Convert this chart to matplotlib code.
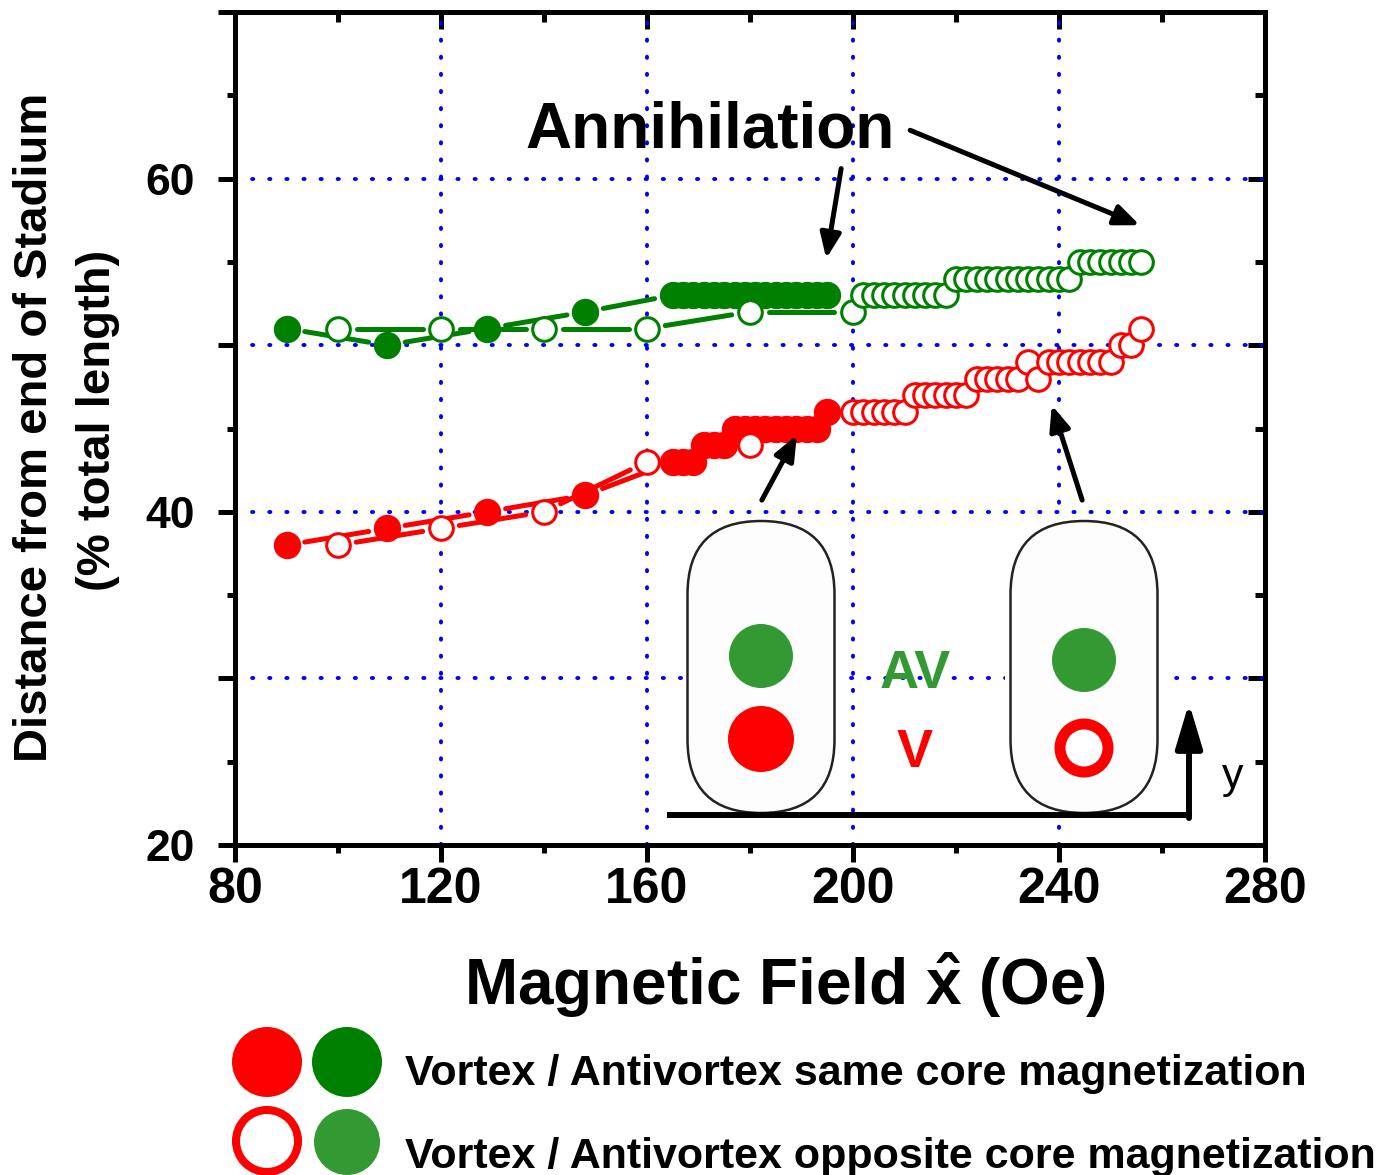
import numpy as np
import matplotlib.pyplot as plt
from matplotlib.patches import Circle, FancyBboxPatch, Rectangle
from matplotlib.collections import LineCollection
from matplotlib.ticker import MultipleLocator

plt.rcParams['font.family'] = ['Liberation Sans', 'DejaVu Sans']
plt.rcParams['font.weight'] = 'bold'
plt.rcParams['lines.dash_capstyle'] = 'round'
plt.rcParams['mathtext.fontset'] = 'custom'
plt.rcParams['mathtext.rm'] = 'Liberation Sans:bold'
plt.rcParams['mathtext.bf'] = 'Liberation Sans:bold'

# vortex / antivortex same core magnetization (filled symbols)
field_same = [90, 109.5, 129, 148, 165, 167, 169, 171, 173, 175, 177, 179,
              181, 183, 185, 187, 189, 191, 193, 195]
av_same = [51, 50, 51, 52, 53, 53, 53, 53, 53, 53, 53, 53,
           53, 53, 53, 53, 53, 53, 53, 53]
v_same = [38, 39, 40, 41, 43, 43, 43, 44, 44, 44, 45, 45,
          45, 45, 45, 45, 45, 45, 45, 46]

# opposite core magnetization (open symbols)
field_opp = [100, 120, 140, 160, 180, 200, 202, 204, 206, 208, 210, 212,
             214, 216, 218, 220, 222, 224, 226, 228, 230, 232, 234, 236,
             238, 240, 242, 244, 246, 248, 250, 252, 254, 256]
av_opp = [51, 51, 51, 51, 52, 52, 53, 53, 53, 53, 53, 53,
          53, 53, 53, 54, 54, 54, 54, 54, 54, 54, 54, 54,
          54, 54, 54, 55, 55, 55, 55, 55, 55, 55]
v_opp = [38, 39, 40, 43, 44, 46, 46, 46, 46, 46, 46, 47,
         47, 47, 47, 47, 47, 48, 48, 48, 48, 48, 49, 48,
         49, 49, 49, 49, 49, 49, 49, 50, 50, 51]

green = '#008000'
red = '#ff0000'
light_green = '#339933'

fig = plt.figure(figsize=(13.8, 11.75), dpi=100)
ax = fig.add_axes([235/1380, 1 - 845/1175, 1030/1380, 833/1175])
ax.set_xlim(80, 280)
ax.set_ylim(20, 70)


def gapped(x, y, gap=18.5):
    # Origin-style line: segments stop short of the symbols
    pts = ax.transData.transform(np.column_stack([x, y]))
    inv = ax.transData.inverted()
    segs = []
    for p, q in zip(pts[:-1], pts[1:]):
        d = q - p
        L = np.hypot(d[0], d[1])
        if L <= 2*gap:
            continue
        u = d / L
        segs.append(inv.transform(np.array([p + u*gap, q - u*gap])))
    return segs


for x, y, c in [(field_same, av_same, green), (field_opp, av_opp, green),
                (field_same, v_same, red), (field_opp, v_opp, red)]:
    ax.add_collection(LineCollection(gapped(x, y), colors=c, linewidths=3.6,
                                     capstyle='round', zorder=2))

ax.plot(field_same, av_same, 'o', ms=17.5, mew=2.2, mfc=green, mec=green, ls='none', zorder=3)
ax.plot(field_same, v_same, 'o', ms=17.5, mew=2.2, mfc=red, mec=red, ls='none', zorder=3)
ax.plot(field_opp, av_opp, 'o', ms=17, mew=2.2, mfc='white', mec=green, ls='none', zorder=4)
ax.plot(field_opp, v_opp, 'o', ms=17, mew=2.2, mfc='white', mec=red, ls='none', zorder=4)

# axes and ticks
ax.xaxis.set_major_locator(MultipleLocator(40))
ax.xaxis.set_minor_locator(MultipleLocator(20))
ax.set_yticks([20, 30, 40, 50, 60, 70], ['20', '', '40', '', '60', ''])
ax.yaxis.set_minor_locator(MultipleLocator(5))
ax.tick_params(which='major', direction='out', length=12, width=3.6)
ax.tick_params(which='minor', direction='out', length=6, width=3.6)
ax.tick_params(axis='x', labelsize=36, pad=4)
ax.tick_params(axis='y', labelsize=32, pad=17)
for s in ax.spines.values():
    s.set_linewidth(3.6)

top = ax.secondary_xaxis('top')
top.xaxis.set_major_locator(MultipleLocator(40))
top.xaxis.set_minor_locator(MultipleLocator(20))
top.tick_params(which='major', direction='in', length=12, width=3.6, labeltop=False)
top.tick_params(which='minor', direction='in', length=7, width=3.6)
right = ax.secondary_yaxis('right')
right.yaxis.set_major_locator(MultipleLocator(10))
right.yaxis.set_minor_locator(MultipleLocator(5))
right.tick_params(which='major', direction='in', length=12, width=3.6, labelright=False)
right.tick_params(which='minor', direction='in', length=7, width=3.6)
for sec in (top, right):
    for s in sec.spines.values():
        s.set_linewidth(3.6)

ax.grid(True, which='major', color='blue', lw=2.8, ls=(0, (0.3, 4.1)))

# annotations
fig.text(710/1380, 1 - 148/1175, 'Annihilation', fontsize=46, ha='center', va='baseline')
arrow = dict(arrowstyle='-|>,head_length=0.6,head_width=0.25', mutation_scale=25,
             lw=3.6, color='k', shrinkA=0, shrinkB=0)
ax.annotate('', xy=(194.8, 55.2), xytext=(197.7, 60.6), arrowprops=arrow)
ax.annotate('', xy=(255.7, 57.2), xytext=(211.1, 62.9), arrowprops=arrow)
ax.annotate('', xy=(189.1, 44.6), xytext=(182.3, 40.7), arrowprops=arrow)
ax.annotate('', xy=(238.6, 46.4), xytext=(244.5, 40.7), arrowprops=arrow)

# axis titles
fig.text(785/1380, 1 - 1005/1175, r'Magnetic Field $\mathbf{\hat{x}}$ (Oe)', fontsize=46,
         ha='center', va='baseline')
fig.text(35/1380, 1 - 427/1175, 'Distance from end of Stadium', rotation=90,
         fontsize=34, ha='center', va='center')
fig.text(98/1380, 1 - 420/1175, '(% total length)', rotation=90,
         fontsize=34, ha='center', va='center')

# inset sketch and legend, drawn in pixel coordinates
ov = fig.add_axes([0, 0, 1, 1], zorder=5)
ov.set_xlim(0, 1380)
ov.set_ylim(1175, 0)
ov.axis('off')
ov.patch.set_alpha(0)

ov.add_patch(Rectangle((683, 515), 156, 297, fc='white', ec='none'))
ov.add_patch(Rectangle((1005, 515), 163, 297, fc='white', ec='none'))
for cx in (761, 1084):
    ov.add_patch(FancyBboxPatch((cx, 594.5), 0, 145, boxstyle='round,pad=73.5',
                                fc='#fdfdfd', ec='#222222', lw=1.8))
ov.add_patch(Circle((761, 656), 32, fc=light_green, ec='none'))
ov.add_patch(Circle((761, 739), 33, fc=red, ec='none'))
ov.add_patch(Circle((1084, 660), 32, fc=light_green, ec='none'))
ov.add_patch(Circle((1084, 748), 24, fc='white', ec=red, lw=7.9))
ov.text(915, 688, 'AV', color=light_green, fontsize=39, ha='center', va='baseline')
ov.text(915, 767, 'V', color=red, fontsize=39, ha='center', va='baseline')
ov.plot([667, 1192], [815, 815], color='k', lw=4.3, solid_capstyle='butt')
ov.annotate('', xy=(1189, 703), xytext=(1189, 818),
            arrowprops=dict(arrowstyle='-|>,head_length=1.0,head_width=0.3',
                            mutation_scale=27, lw=4.3, color='k',
                            shrinkA=0, shrinkB=0))
ov.text(1233, 788, 'y', fontsize=31, fontweight='normal', ha='center', va='baseline')

ov.add_patch(Circle((267, 1062), 35, fc=red, ec='none', clip_on=False))
ov.add_patch(Circle((347, 1062), 35, fc=green, ec='none', clip_on=False))
ov.add_patch(Circle((267, 1141), 31, fc='white', ec=red, lw=5.8, clip_on=False))
ov.add_patch(Circle((347, 1142), 33, fc=light_green, ec='none', clip_on=False))
ov.text(405, 1085, 'Vortex / Antivortex same core magnetization', fontsize=31,
        ha='left', va='baseline')
ov.text(405, 1168, 'Vortex / Antivortex opposite core magnetization', fontsize=31,
        ha='left', va='baseline')

fig.savefig('out.png', dpi=100)
